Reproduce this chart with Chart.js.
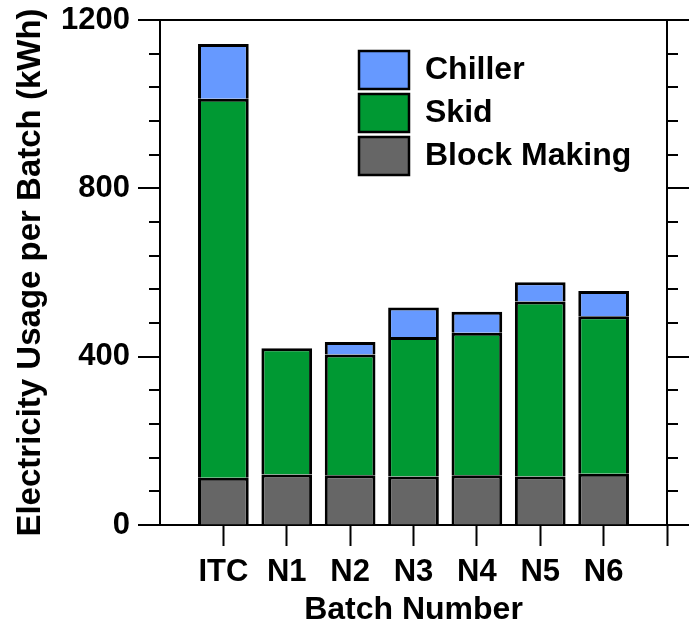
<!DOCTYPE html>
<html>
<head>
<meta charset="utf-8">
<script src="https://cdn.jsdelivr.net/npm/chart.js@4"></script>
<style>
  body { margin: 0; background: #fff; }
  #wrap { width: 691px; height: 629px; position: relative; }
</style>
</head>
<body>
<div id="wrap"><canvas id="myChart"></canvas></div>
<script>
// Данные графика
const batches = ['ITC', 'N1', 'N2', 'N3', 'N4', 'N5', 'N6'];
const blockMaking = [112, 120, 118, 115, 118, 115, 122];
const skid = [901, 300, 287, 332, 339, 416, 374];
const chiller = [130, 0, 30, 70, 50, 46, 60];
const yMajor = [0, 400, 800, 1200];

const FONT = "'Liberation Sans', Arial, sans-serif";

// превращаем массив в точки {x, y} для линейной оси X
function points(values) {
    return values.map((v, i) => ({ x: i + 1, y: v }));
}

// общий стиль столбцов
function barSet(label, values, color) {
    return {
        label: label,
        data: points(values),
        backgroundColor: color,
        borderColor: '#000',
        borderWidth: 3,
        borderSkipped: 'start',
        categoryPercentage: 1.0,
        barPercentage: 0.8
    };
}

// убираем лишние отступы под подписи, чтобы область графика была как в оригинале
function noPad(scale) {
    scale.paddingTop = 0;
    scale.paddingBottom = 0;
    scale.paddingLeft = 0;
    scale.paddingRight = 0;
}

// рамка сверху и засечки на осях Y (большие и малые)
const framePlugin = {
    id: 'frame',
    afterLayout(chart) {
        // легенда внутри области графика
        const lg = chart.legend;
        const w = lg.right - lg.left, h = lg.bottom - lg.top;
        lg.left = 354; lg.top = 46;
        lg.right = lg.left + w; lg.bottom = lg.top + h;
    },
    afterDraw(chart) {
        const ctx = chart.ctx;
        const area = chart.chartArea;
        ctx.save();
        ctx.strokeStyle = '#000';
        ctx.lineWidth = 2;
        ctx.beginPath();
        ctx.moveTo(area.left - 1, area.top);
        ctx.lineTo(area.right + 1, area.top);
        ['y', 'y2'].forEach(id => {
            const scale = chart.scales[id];
            scale.ticks.forEach(t => {
                const py = Math.round(scale.getPixelForValue(t.value));
                const len = yMajor.includes(t.value) ? 22 : 11;
                if (id === 'y') {
                    ctx.moveTo(area.left - len, py);
                    ctx.lineTo(area.left, py);
                } else {
                    ctx.moveTo(area.right, py);
                    ctx.lineTo(area.right + len, py);
                }
            });
        });
        ctx.stroke();
        ctx.restore();
    }
};

const ctx = document.getElementById('myChart').getContext('2d');
const chart = new Chart(ctx, {
    type: 'bar',
    data: {
        datasets: [
            barSet('Block Making', blockMaking, '#666666'),
            barSet('Skid', skid, '#009933'),
            barSet('Chiller', chiller, '#6699FF')
        ]
    },
    options: {
        responsive: true,
        maintainAspectRatio: false,
        animation: false,
        layout: { padding: { top: 20, left: 0, right: 0, bottom: 0 } },
        plugins: {
            legend: {
                position: 'chartArea',
                align: 'start',
                reverse: true,
                labels: {
                    color: '#000',
                    font: { family: FONT, size: 32, weight: 'bold' },
                    boxWidth: 50,
                    boxHeight: 38,
                    padding: 5,
                    generateLabels: chart => Chart.defaults.plugins.legend.labels.generateLabels(chart)
                        .map(item => Object.assign(item, { lineWidth: 2.5 }))
                }
            },
            tooltip: { enabled: false }
        },
        scales: {
            x: {
                type: 'linear',
                position: 'bottom',
                stacked: true,
                min: 0,
                max: 8,
                offset: false,
                afterBuildTicks: scale => {
                    scale.ticks = scale.ticks.filter(t => t.value > 0);
                },
                afterFit: scale => { scale.height = 104; noPad(scale); },
                ticks: {
                    stepSize: 1,
                    autoSkip: false,
                    maxRotation: 0,
                    padding: 8,
                    color: '#000',
                    font: { family: FONT, size: 31, weight: 'bold' },
                    callback: v => batches[v - 1] || ''
                },
                grid: {
                    offset: false,
                    drawOnChartArea: false,
                    drawTicks: true,
                    tickLength: 21,
                    tickWidth: 2,
                    tickColor: '#000'
                },
                border: { color: '#000', width: 2 },
                title: {
                    display: true,
                    text: 'Batch Number',
                    color: '#000',
                    font: { family: FONT, size: 32, weight: 'bold' },
                    padding: { top: 0, bottom: 0 }
                }
            },
            y: {
                position: 'left',
                stacked: true,
                min: 0,
                max: 1200,
                afterFit: scale => { scale.width = 160; noPad(scale); },
                ticks: {
                    stepSize: 80,
                    autoSkip: false,
                    padding: 30,
                    color: '#000',
                    font: { family: FONT, size: 31, weight: 'bold' },
                    callback: v => yMajor.includes(v) ? v : ''
                },
                grid: { drawOnChartArea: false, drawTicks: false },
                border: { color: '#000', width: 2 },
                title: {
                    display: true,
                    text: 'Electricity Usage per Batch (kWh)',
                    color: '#000',
                    font: { family: FONT, size: 33, weight: 'bold' },
                    padding: { top: 11, bottom: 0 }
                }
            },
            y2: {
                position: 'right',
                min: 0,
                max: 1200,
                afterFit: scale => { scale.width = 24; noPad(scale); },
                ticks: { stepSize: 80, display: false },
                grid: { drawOnChartArea: false, drawTicks: false },
                border: { color: '#000', width: 2 }
            }
        }
    },
    plugins: [framePlugin]
});
</script>
</body>
</html>
